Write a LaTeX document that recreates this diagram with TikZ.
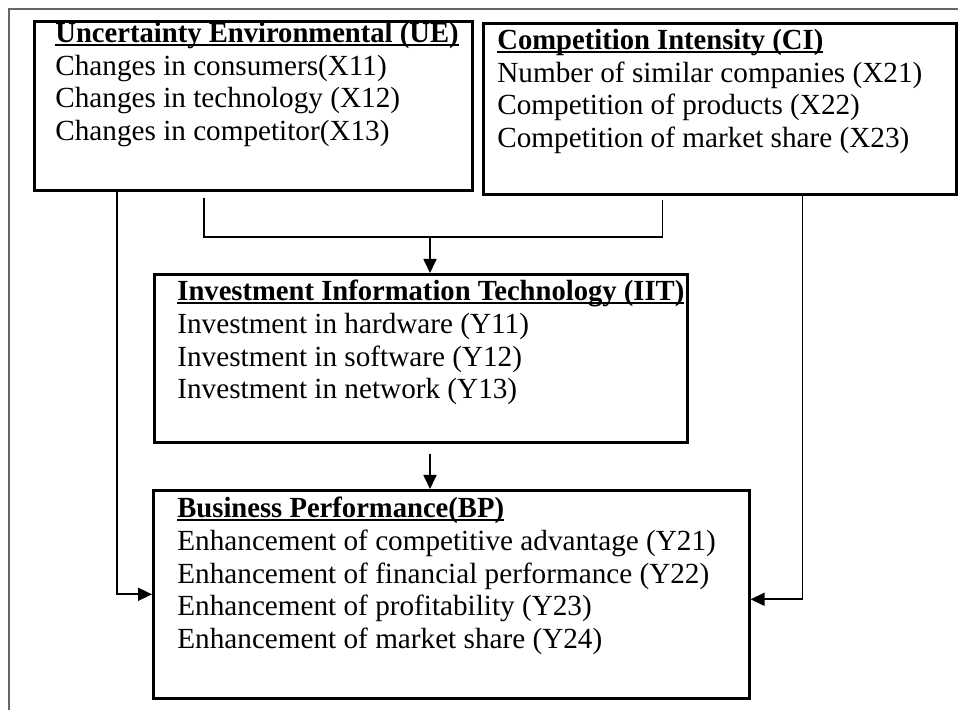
\documentclass[tikz,border=0pt]{standalone}
\usepackage{fontspec}
\usepackage{graphicx}
\setmainfont{Liberation Serif}
\usetikzlibrary{arrows.meta}

\tikzset{
  box/.style={draw, line width=1.3pt, rectangle, anchor=north west, inner sep=0pt},
  lbl/.style={anchor=north west, align=left, inner sep=0pt, font=\fontsize{14.6pt}{16.3pt}\selectfont},
  link/.style={line width=0.85pt},
  arr/.style={link, -{Triangle[length=7pt,width=6.5pt]}},
}
\newlength\hdwidth
\newcommand{\hd}[1]{\settowidth{\hdwidth}{\scalebox{0.98}[1]{\textbf{#1}}}\scalebox{0.98}[1]{\textbf{#1}}\hspace{-\hdwidth}\rule[-1.6pt]{\hdwidth}{0.9pt}}

\begin{document}
\begin{tikzpicture}[x=0.5pt,y=-0.5pt]
  \useasboundingbox (0,0) rectangle (958,710);
  % page frame
  \draw[black!60, line width=0.8pt] (9,710) -- (9,9) -- (958,9);

  % Uncertainty environmental
  \node[box, minimum width=219pt, minimum height=84.5pt] (ue) at (33,20) {};
  \node[lbl] (uetxt) at (55,22) {\hd{Uncertainty Environmental (UE)}\\
    Changes in consumers(X11)\\
    Changes in technology (X12)\\
    Changes in competitor(X13)};

  % Competition intensity
  \node[box, minimum width=236.5pt, minimum height=85.5pt] (ci) at (482,22) {};
  \node[lbl] (citxt) at (497,29) {\hd{Competition Intensity (CI)}\\
    Number of similar companies (X21)\\
    Competition of products (X22)\\
    Competition of market share (X23)};

  % Investment IT
  \node[box, minimum width=266.5pt, minimum height=84pt] (iit) at (153,273) {};
  \node[lbl] (iittxt) at (177,280) {\hd{Investment Information Technology (IIT)}\\
    Investment in hardware (Y11)\\
    Investment in software (Y12)\\
    Investment in network (Y13)};

  % Business performance
  \node[box, minimum width=298pt, minimum height=104pt] (bp) at (152,489) {};
  \node[lbl] (bptxt) at (177,497) {\hd{Business Performance(BP)}\\
    Enhancement of competitive advantage (Y21)\\
    Enhancement of financial performance (Y22)\\
    Enhancement of profitability (Y23)\\
    Enhancement of market share (Y24)};

  % links
  \coordinate (jn) at (430,237);
  \coordinate (kn) at (430,454);
  \draw[link] ([shift={(171,6)}]ue.south west) |- (jn) -| ([shift={(-295,4)}]ci.south east);
  \draw[arr] (jn) -- (jn |- iit.north);
  \draw[arr] (kn) -- (kn |- bp.north);
  \draw[arr] ([xshift=42pt]ue.south west) |- (bp.west);
  \draw[arr] ([xshift=-77.5pt]ci.south east) |- ([yshift=-2.5pt]bp.east);
\end{tikzpicture}
\end{document}
